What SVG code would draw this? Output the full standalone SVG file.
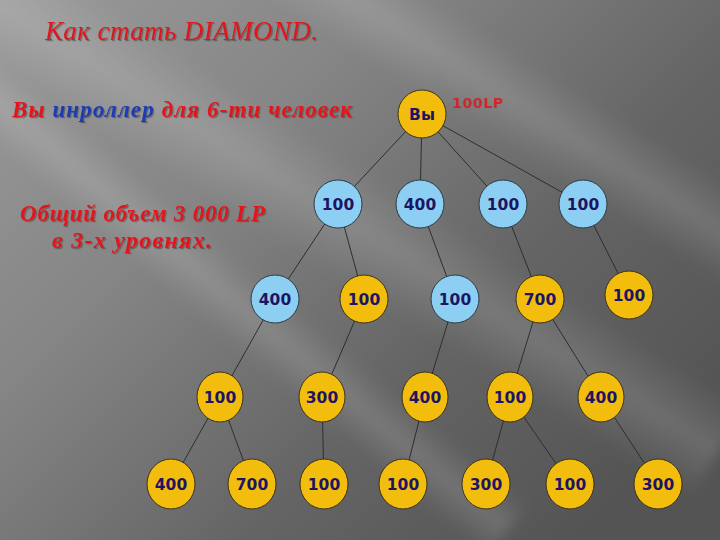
<svg xmlns="http://www.w3.org/2000/svg" width="720" height="540" viewBox="0 0 720 540">
<defs>
<linearGradient id="bg" x1="0" y1="0" x2="1" y2="0.75">
<stop offset="0" stop-color="#9a9a9a"/>
<stop offset="0.35" stop-color="#858585"/>
<stop offset="0.7" stop-color="#646464"/>
<stop offset="1" stop-color="#545454"/>
</linearGradient>
<linearGradient id="band" x1="0" y1="0" x2="0" y2="1">
<stop offset="0" stop-color="#fff" stop-opacity="0"/>
<stop offset="0.5" stop-color="#fff" stop-opacity="0.14"/>
<stop offset="1" stop-color="#fff" stop-opacity="0"/>
</linearGradient>
<filter id="sh" x="-5%" y="-20%" width="110%" height="140%">
<feDropShadow dx="1.2" dy="1.2" stdDeviation="0.5" flood-color="#444" flood-opacity="0.6"/>
</filter>
<filter id="blur"><feGaussianBlur stdDeviation="6"/></filter>
<style>
.ser{font-family:"Liberation Serif","Times New Roman",serif;font-style:italic;fill:#e0151d}
.b{font-weight:bold}
.blueT{fill:#1c3cb0}
.nb{fill:#8ccff2;stroke:#2c3c48;stroke-width:1}
.ny{fill:#f2bd0c;stroke:#3e3218;stroke-width:1}
.nt{font-family:"DejaVu Sans",Verdana,sans-serif;font-weight:bold;font-size:15.5px;fill:#1e1464;text-anchor:middle}
.edge{stroke:#2e2e2e;stroke-width:1;fill:none}
</style>
</defs>
<rect width="720" height="540" fill="url(#bg)"/>
<g filter="url(#blur)">
<rect x="-100" y="-40" width="1000" height="90" fill="url(#band)" transform="rotate(32 360 270) translate(0 40)"/>
<rect x="-100" y="180" width="1000" height="110" fill="url(#band)" transform="rotate(32 360 270) translate(-140 0)"/>
<rect x="-100" y="300" width="1000" height="70" fill="url(#band)" transform="rotate(40 360 270) translate(-260 40)"/>
</g>

<g id="texts" filter="url(#sh)">
<text class="ser" x="45" y="40" font-size="27" textLength="273">Как стать DIAMOND.</text>
<text class="ser b" x="12" y="117" font-size="23" textLength="340">Вы <tspan class="blueT">инроллер</tspan> для 6-ти человек</text>
<text class="ser b" x="20" y="221" font-size="23" textLength="245">Общий объем 3 000 LP</text>
<text class="ser b" x="52" y="248" font-size="24" textLength="160">в  3-х уровнях.</text>
</g>
<text x="452" y="108" font-family="'DejaVu Sans',Verdana,sans-serif" font-size="14" font-weight="bold" fill="#e0151d" opacity="0.85" textLength="51">100LP</text>

<g id="connectors" class="edge">
<line x1="422" y1="114" x2="338" y2="204"/>
<line x1="422" y1="114" x2="420" y2="204"/>
<line x1="422" y1="114" x2="503" y2="204"/>
<line x1="422" y1="114" x2="583" y2="204"/>
<line x1="338" y1="204" x2="275" y2="299"/>
<line x1="338" y1="204" x2="364" y2="299"/>
<line x1="420" y1="204" x2="455" y2="299"/>
<line x1="503" y1="204" x2="540" y2="299"/>
<line x1="583" y1="204" x2="629" y2="295"/>
<line x1="275" y1="299" x2="220" y2="397"/>
<line x1="364" y1="299" x2="322" y2="397"/>
<line x1="455" y1="299" x2="425" y2="397"/>
<line x1="540" y1="299" x2="510" y2="397"/>
<line x1="540" y1="299" x2="601" y2="397"/>
<line x1="220" y1="397" x2="171" y2="484"/>
<line x1="220" y1="397" x2="252" y2="484"/>
<line x1="322" y1="397" x2="324" y2="484"/>
<line x1="425" y1="397" x2="403" y2="484"/>
<line x1="510" y1="397" x2="486" y2="484"/>
<line x1="510" y1="397" x2="570" y2="484"/>
<line x1="601" y1="397" x2="658" y2="484"/>
</g>

<g id="n0"><circle class="ny" cx="422" cy="114" r="24"/><text class="nt" x="422" y="120" font-size="16">Вы</text></g>

<g id="n1"><circle class="nb" cx="338" cy="204" r="24"/><text class="nt" x="338" y="210">100</text></g>
<g id="n2"><circle class="nb" cx="420" cy="204" r="24"/><text class="nt" x="420" y="210">400</text></g>
<g id="n3"><circle class="nb" cx="503" cy="204" r="24"/><text class="nt" x="503" y="210">100</text></g>
<g id="n4"><circle class="nb" cx="583" cy="204" r="24"/><text class="nt" x="583" y="210">100</text></g>

<g id="n5"><circle class="nb" cx="275" cy="299" r="24"/><text class="nt" x="275" y="305">400</text></g>
<g id="n6"><circle class="ny" cx="364" cy="299" r="24"/><text class="nt" x="364" y="305">100</text></g>
<g id="n7"><circle class="nb" cx="455" cy="299" r="24"/><text class="nt" x="455" y="305">100</text></g>
<g id="n8"><circle class="ny" cx="540" cy="299" r="24"/><text class="nt" x="540" y="305">700</text></g>
<g id="n9"><circle class="ny" cx="629" cy="295" r="24"/><text class="nt" x="629" y="301">100</text></g>

<g id="n10"><ellipse class="ny" cx="220" cy="397" rx="23" ry="25"/><text class="nt" x="220" y="403">100</text></g>
<g id="n11"><ellipse class="ny" cx="322" cy="397" rx="23" ry="25"/><text class="nt" x="322" y="403">300</text></g>
<g id="n12"><ellipse class="ny" cx="425" cy="397" rx="23" ry="25"/><text class="nt" x="425" y="403">400</text></g>
<g id="n13"><ellipse class="ny" cx="510" cy="397" rx="23" ry="25"/><text class="nt" x="510" y="403">100</text></g>
<g id="n14"><ellipse class="ny" cx="601" cy="397" rx="23" ry="25"/><text class="nt" x="601" y="403">400</text></g>

<g id="n15"><ellipse class="ny" cx="171" cy="484" rx="24" ry="25"/><text class="nt" x="171" y="490">400</text></g>
<g id="n16"><ellipse class="ny" cx="252" cy="484" rx="24" ry="25"/><text class="nt" x="252" y="490">700</text></g>
<g id="n17"><ellipse class="ny" cx="324" cy="484" rx="24" ry="25"/><text class="nt" x="324" y="490">100</text></g>
<g id="n18"><ellipse class="ny" cx="403" cy="484" rx="24" ry="25"/><text class="nt" x="403" y="490">100</text></g>
<g id="n19"><ellipse class="ny" cx="486" cy="484" rx="24" ry="25"/><text class="nt" x="486" y="490">300</text></g>
<g id="n20"><ellipse class="ny" cx="570" cy="484" rx="24" ry="25"/><text class="nt" x="570" y="490">100</text></g>
<g id="n21"><ellipse class="ny" cx="658" cy="484" rx="24" ry="25"/><text class="nt" x="658" y="490">300</text></g>
</svg>
